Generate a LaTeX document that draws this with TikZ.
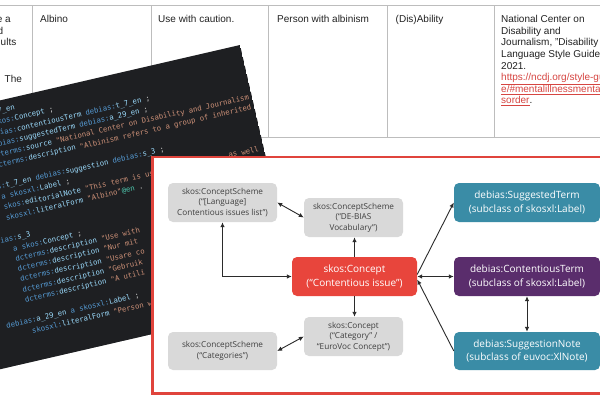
\documentclass[tikz,border=0pt]{standalone}
\usepackage{fontspec}
\setmainfont{Liberation Sans}
\newfontfamily\osans{Open Sans}
\newfontfamily\cmono{DejaVu Sans Mono}
\usetikzlibrary{arrows.meta}
\definecolor{tline}{HTML}{BDBDBD}
\definecolor{ttext}{HTML}{222222}
\definecolor{tlink}{HTML}{D64541}
\definecolor{codebg}{HTML}{1E1F22}
\definecolor{cpre}{HTML}{569CD6}
\definecolor{cloc}{HTML}{9CDCFE}
\definecolor{cstr}{HTML}{CE9178}
\definecolor{cpun}{HTML}{D4D4D4}
\definecolor{ctag}{HTML}{4EC9B0}
\definecolor{framered}{HTML}{E0443C}
\definecolor{gbox}{HTML}{D9D9D9}
\definecolor{gtext}{HTML}{3F3F3F}
\definecolor{rbox}{HTML}{E8453C}
\definecolor{tbox}{HTML}{3A8CA6}
\definecolor{pbox}{HTML}{5A2D6C}
\definecolor{arr}{HTML}{2B2B2B}
\newcommand\Kp[1]{\textcolor{cpre}{#1}}
\newcommand\Kl[1]{\textcolor{cloc}{#1}}
\newcommand\Ks[1]{\textcolor{cstr}{#1}}
\newcommand\Kt[1]{\textcolor{ctag}{#1}}
\tikzset{
  ttxt/.style={font=\fontsize{10}{12}\selectfont, text=ttext, inner sep=0pt, anchor=base west},
  tlk/.style={ttxt, text=tlink},
  code/.style={font=\cmono\fontsize{7.3}{9}\selectfont, inner sep=0pt, anchor=base west, text=cpun},
  gnode/.style={fill=gbox, rounded corners=5pt, inner sep=0pt, align=center,
    font=\osans\fontsize{8.2}{10.4}\selectfont, text=gtext},
  cnode/.style={rounded corners=5pt, inner sep=0pt, align=center,
    font=\osans\fontsize{10}{13.5}\selectfont, text=white},
  conn/.style={draw=arr, line width=0.9pt, >={Latex[length=5pt,width=4.5pt]}},
}
\begin{document}
\begin{tikzpicture}[x=1pt,y=-1pt]
\useasboundingbox (0,0) rectangle (600,400);
\clip (0,0) rectangle (600,400);
\fill[white] (0,0) rectangle (600,400);
% ---------- table ----------
\draw[tline, line width=0.8pt] (0,5) -- (600,5);
\draw[tline, line width=0.8pt] (0,137) -- (600,137);
\foreach \xx in {32,151,268,387,494} \draw[tline, line width=0.8pt] (\xx,5) -- (\xx,137);
\node[ttxt, anchor=base east] (f1) at (11,22.6) {e a};
\node[ttxt, anchor=base east] (f2) at (3.5,34.2) {d};
\node[ttxt, anchor=base east] (f3) at (16.5,45.8) {ults};
\node[ttxt] (f4) at (4.5,82) {The};
\node[ttxt] (alb) at (40,22.6) {Albino};
\node[ttxt] (use) at (158,22.6) {Use with caution.};
\node[ttxt] (pers) at (277,22.6) {Person with albinism};
\node[ttxt] (dis) at (395.5,22.6) {(Dis)Ability};
\node[ttxt] (r1) at (501,22.6) {National Center on};
\node[ttxt] (r2) at (501,34.2) {Disability and};
\node[ttxt] (r3) at (501,45.8) {Journalism, "Disability};
\node[ttxt] (r4) at (501,57.4) {Language Style Guide",};
\node[ttxt] (r5) at (501,69.0) {2021.};
\node[tlk] (r6) at (501,80.6) {\underline{https://ncdj.org/style-guid}};
\node[tlk] (r7) at (501,92.2) {\underline{e/\#mentalillnessmentaldi}};
\node[ttxt] (r8) at (501,103.8) {\textcolor{tlink}{\underline{sorder}}.};
% ---------- code screenshot ----------
\begin{scope}[shift={(240,45)},rotate=13,transform shape]
  \clip (-430,0) rectangle (0,262);
  \fill[codebg] (-430,0) rectangle (0,262);
  \node[code] (c0) at (-291,12.7) {\Kp{debias:}\Kl{c\_7\_en}};
  \node[code] (c1) at (-267,23.25) {\Kp{a} \Kp{skos:}\Kl{Concept} ;};
  \node[code] (c2) at (-267,33.8) {\Kp{debias:}\Kl{contentiousTerm} \Kp{debias:}\Kl{t\_7\_en} ;};
  \node[code] (c3) at (-267,44.35) {\Kp{debias:}\Kl{suggestedTerm} \Kp{debias:}\Kl{a\_29\_en} ;};
  \node[code] (c4) at (-267,54.9) {\Kp{dcterms:}\Kl{source} \Ks{"National Center on Disability and Journalism}};
  \node[code] (c5) at (-267,65.45) {\Kp{dcterms:}\Kl{description} \Ks{"Albinism refers to a group of inherited}};
  \node[code] (c7) at (-291,86.55) {\Kp{debias:}\Kl{t\_7\_en} \Kp{debias:}\Kl{suggestion} \Kp{debias:}\Kl{s\_3} ;};
  \node[code] (c8) at (-267,97.1) {\Kp{a} \Kp{skosxl:}\Kl{Label} ;};
  \node[code] (c9) at (-267,107.65) {\Kp{skos:}\Kl{editorialNote} \Ks{"This term is us}};
  \node[code, anchor=base east] (c9b) at (-5,107.65) {\Ks{as well}};
  \node[code] (c10) at (-267,118.2) {\Kp{skosxl:}\Kl{literalForm} \Ks{"Albino"}\Kt{@en} .};
  \node[code] (c12) at (-291,139.3) {\Kp{debias:}\Kl{s\_3}};
  \node[code] (c13) at (-267,149.85) {\Kp{a} \Kp{skos:}\Kl{Concept} ;};
  \node[code] (c14) at (-267,160.4) {\Kp{dcterms:}\Kl{description} \Ks{"Use with}};
  \node[code] (c15) at (-267,170.95) {\Kp{dcterms:}\Kl{description} \Ks{"Nur mit}};
  \node[code] (c16) at (-267,181.5) {\Kp{dcterms:}\Kl{description} \Ks{"Usare co}};
  \node[code] (c17) at (-267,192.05) {\Kp{dcterms:}\Kl{description} \Ks{"Gebruik}};
  \node[code] (c18) at (-267,202.6) {\Kp{dcterms:}\Kl{description} \Ks{"A utili}};
  \node[code] (c20) at (-291,223.7) {\Kp{debias:}\Kl{a\_29\_en} \Kp{a} \Kp{skosxl:}\Kl{Label} ;};
  \node[code] (c21) at (-267,234.25) {\Kp{skosxl:}\Kl{literalForm} \Ks{"Person w}};
\end{scope}
% ---------- frame ----------
\draw[framered, line width=2.4pt, fill=white] (152.5,157) rectangle (640,393.5);
% ---------- diagram nodes ----------
\node[gnode, minimum width=109pt, minimum height=39pt] (lang) at (222.5,202.5)
  {skos:ConceptScheme\\(“[Language]\\Contentious issues list”)};
\node[gnode, minimum width=99pt, minimum height=39pt] (debias) at (353.5,217.5)
  {skos:ConceptScheme\\(“DE-BIAS\\Vocabulary”)};
\node[cnode, fill=rbox, minimum width=125pt, minimum height=39pt] (concept) at (354.5,276.5)
  {skos:Concept\\(“Contentious issue”)};
\node[gnode, minimum width=99pt, minimum height=39pt] (category) at (353.5,336.5)
  {skos:Concept\\(“Category” /\\“EuroVoc Concept”)};
\node[gnode, minimum width=109pt, minimum height=38pt] (cats) at (222.5,351)
  {skos:ConceptScheme\\(“Categories”)};
\node[cnode, fill=tbox, minimum width=146pt, minimum height=39pt] (sugg) at (527,202.5)
  {debias:SuggestedTerm\\(subclass of skosxl:Label)};
\node[cnode, fill=pbox, minimum width=146pt, minimum height=39pt] (cont) at (527,276.5)
  {debias:ContentiousTerm\\(subclass of skosxl:Label)};
\node[cnode, fill=tbox, minimum width=146pt, minimum height=38pt] (note) at (527,351)
  {debias:SuggestionNote\\(subclass of euvoc:XlNote)};
% ---------- connectors ----------
\draw[conn, <->] (lang.east) -- (debias.west);
\draw[conn, <->] (concept.west) -| (lang.south);
\draw[conn, ->] (concept.north) -- (concept.north |- debias.south);
\draw[conn, ->] (concept.south) -- (concept.south |- category.north);
\draw[conn, <->] (category.west) -- (cats.east);
\draw[conn, ->] ([yshift=2pt]concept.east) -- (sugg.west);
\draw[conn, <->] (concept.east) -- (cont.west);
\draw[conn, ->] (note.west) -- ([yshift=-3pt]concept.east);
\draw[conn, <->] (cont.south) -- (note.north);
\end{tikzpicture}
\end{document}
